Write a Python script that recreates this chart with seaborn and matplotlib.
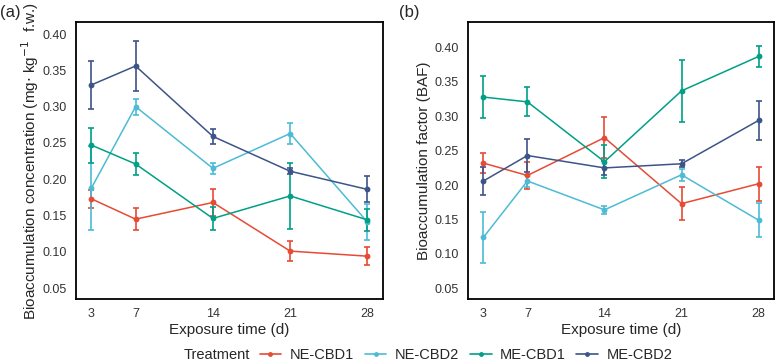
import numpy as np
import pandas as pd
import matplotlib
matplotlib.use("Agg")
import matplotlib.pyplot as plt
import seaborn as sns
from matplotlib.lines import Line2D

days = [3, 7, 14, 21, 28]
treatments = ["NE-CBD1", "NE-CBD2", "ME-CBD1", "ME-CBD2"]
colors = ["#E64B35", "#4DBBD5", "#00A087", "#3C5488"]

# (a) bioaccumulation concentration, mean and error
conc_mean = {
    "NE-CBD1": [0.173, 0.145, 0.168, 0.101, 0.094],
    "NE-CBD2": [0.188, 0.300, 0.215, 0.263, 0.141],
    "ME-CBD1": [0.247, 0.221, 0.146, 0.177, 0.144],
    "ME-CBD2": [0.330, 0.356, 0.259, 0.211, 0.186],
}
conc_err = {
    "NE-CBD1": [0.012, 0.015, 0.019, 0.014, 0.012],
    "NE-CBD2": [0.058, 0.011, 0.008, 0.014, 0.025],
    "ME-CBD1": [0.024, 0.015, 0.016, 0.045, 0.015],
    "ME-CBD2": [0.033, 0.035, 0.010, 0.004, 0.018],
}

# (b) bioaccumulation factor, mean and error
baf_mean = {
    "NE-CBD1": [0.232, 0.214, 0.269, 0.173, 0.202],
    "NE-CBD2": [0.124, 0.206, 0.164, 0.215, 0.149],
    "ME-CBD1": [0.328, 0.321, 0.234, 0.337, 0.387],
    "ME-CBD2": [0.206, 0.243, 0.225, 0.231, 0.294],
}
baf_err = {
    "NE-CBD1": [0.015, 0.020, 0.030, 0.024, 0.025],
    "NE-CBD2": [0.037, 0.009, 0.006, 0.009, 0.025],
    "ME-CBD1": [0.031, 0.021, 0.024, 0.045, 0.015],
    "ME-CBD2": [0.020, 0.024, 0.010, 0.005, 0.028],
}
y_ticks = [0.05, 0.10, 0.15, 0.20, 0.25, 0.30, 0.35, 0.40]


def to_frame(mean, err):
    rows = []
    for t in treatments:
        for d, m, e in zip(days, mean[t], err[t]):
            rows.append({"Day": d, "Value": m, "Err": e, "Treatment": t})
    return pd.DataFrame(rows)


def draw_panel(ax, df, ylim, ylabel, label_x):
    palette = dict(zip(treatments, colors))
    for t in treatments:
        sub = df[df["Treatment"] == t]
        ax.errorbar(sub["Day"], sub["Value"], yerr=sub["Err"], fmt="none",
                    ecolor=palette[t], elinewidth=1.2, capsize=2.5, capthick=1.2)
    sns.lineplot(data=df, x="Day", y="Value", hue="Treatment", palette=palette,
                 hue_order=treatments, marker="o", markersize=4.2,
                 markeredgewidth=0, linewidth=1.1, legend=False, ax=ax)
    ax.set_xlim(1.6, 29.4)
    ax.set_ylim(*ylim)
    ax.set_xticks(days)
    ax.set_yticks(y_ticks)
    ax.set_yticklabels([f"{v:.2f}" for v in y_ticks])
    ax.set_xlabel("Exposure time (d)", fontsize=11, labelpad=2)
    ax.set_ylabel(ylabel, fontsize=11)
    ax.yaxis.set_label_coords(label_x, 0.5)
    ax.tick_params(axis="both", labelsize=9, length=3, width=0.8,
                   color="#333333", labelcolor="#333333")
    for s in ax.spines.values():
        s.set_linewidth(1.3)
        s.set_color("black")


sns.set_theme(style="white")
plt.rcParams["font.family"] = ["Liberation Sans", "DejaVu Sans"]

fig = plt.figure(figsize=(7.77, 3.62), dpi=100)
ax1 = fig.add_axes([0.0978, 0.174, 0.395, 0.765])
ax2 = fig.add_axes([0.6023, 0.174, 0.3938, 0.765])

draw_panel(ax1, to_frame(conc_mean, conc_err), (0.035, 0.4165),
           "Bioaccumulation concentration (mg$\\cdot$ kg$^{-1}$  f.w.)", -0.115)
draw_panel(ax2, to_frame(baf_mean, baf_err), (0.0344, 0.437),
           "Bioaccumulation factor (BAF)", -0.12)

fig.text(0.0, 0.965, "(a)", fontsize=12, va="center", ha="left")
fig.text(0.513, 0.965, "(b)", fontsize=12, va="center", ha="left")

handles = [Line2D([0], [0], color=c, lw=1.2, marker="o", markersize=3.5,
                  markeredgewidth=0) for c in colors]
fig.text(0.322, 0.02, "Treatment", fontsize=10.5, ha="right", va="center")
fig.legend(handles, treatments, loc="center left", bbox_to_anchor=(0.334, 0.02),
           ncol=4, frameon=False, fontsize=10.5, handlelength=1.5,
           handletextpad=0.55, columnspacing=0.75, borderaxespad=0, borderpad=0)

fig.savefig("out.png", dpi=100)
